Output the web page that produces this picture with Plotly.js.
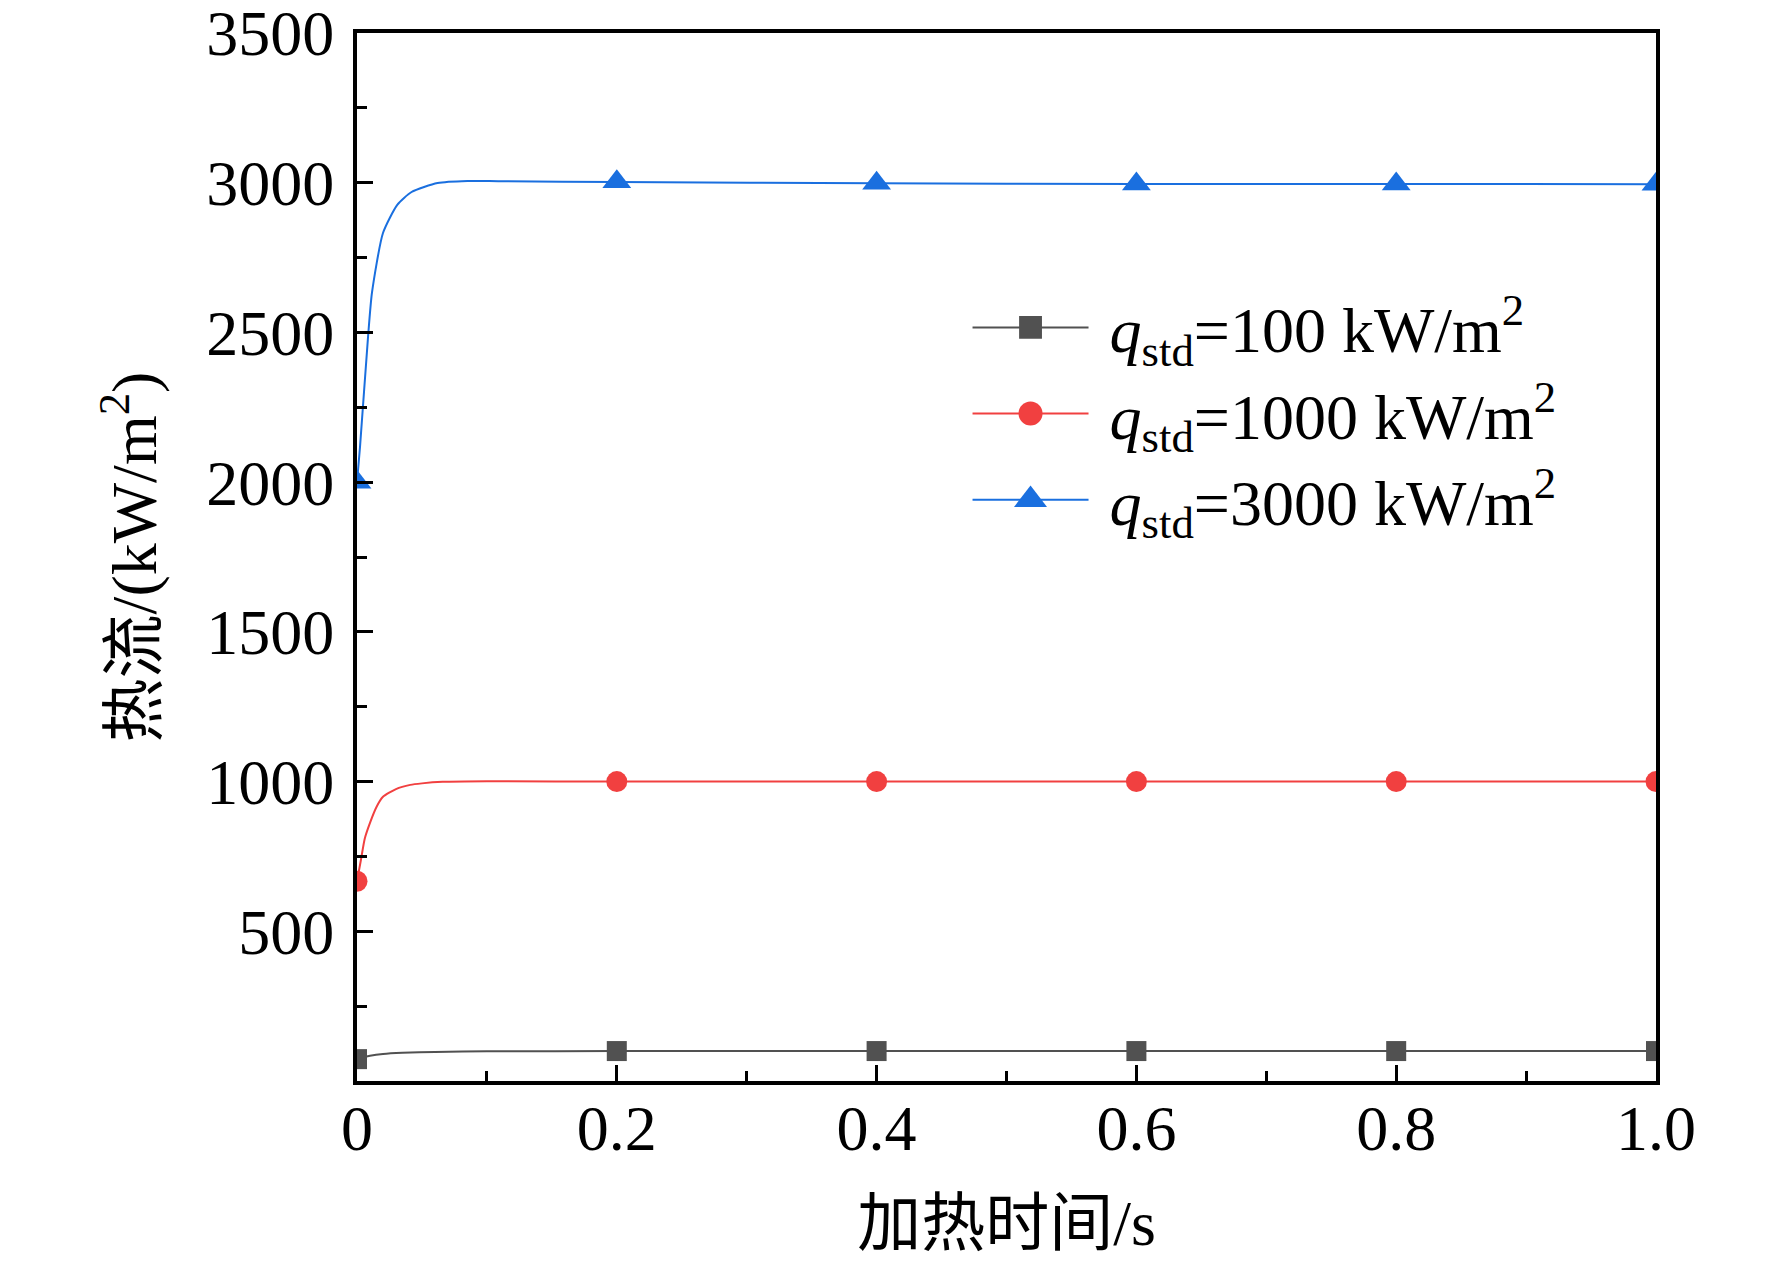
<!DOCTYPE html>
<html>
<head>
<meta charset="utf-8">
<script src="https://cdn.plot.ly/plotly-3.0.1.min.js"></script>
<style>
  html, body { margin: 0; padding: 0; background: #fff; }
  #plot { width: 1772px; height: 1262px; }
</style>
</head>
<body>
<div id="plot"></div>
<script>
// heating time (s) where the markers sit
const markerTimes = [0, 0.2, 0.4, 0.6, 0.8, 1.0];
const q100Markers = [73, 100, 100, 100, 100, 100];
const q1000Markers = [667, 1000, 1000, 1000, 1000, 1000];
const q3000Markers = [2000, 3003, 2998, 2996, 2996, 2995];

// the smooth curves (dense near t = 0)
const q100Times = [0, 0.004, 0.01, 0.02, 0.035, 0.06, 0.1, 0.2, 0.4, 0.6, 0.8, 1.0];
const q100Curve = [73, 78, 84, 90, 94, 97, 99, 100, 100, 100, 100, 100];

const q1000Times = [0, 0.003, 0.006, 0.01, 0.015, 0.02, 0.03, 0.041, 0.05, 0.066, 0.1, 0.2, 0.4, 0.6, 0.8, 1.0];
const q1000Curve = [667, 738, 810, 862, 915, 949, 975, 989, 994, 999, 1001, 1000, 1000, 1000, 1000, 1000];

const q3000Times = [0, 0.0023, 0.0085, 0.0115, 0.02, 0.031, 0.042, 0.062, 0.085, 0.11, 0.2, 0.4, 0.6, 0.8, 1.0];
const q3000Curve = [2000, 2117, 2485, 2632, 2832, 2926, 2969, 2999, 3006, 3005, 3002, 2998, 2996, 2996, 2995];

const seriesNames = [
    '\u00a0<i>q</i><sub>std</sub>=100 kW/m<sup>2</sup>',
    '\u00a0<i>q</i><sub>std</sub>=1000 kW/m<sup>2</sup>',
    '\u00a0<i>q</i><sub>std</sub>=3000 kW/m<sup>2</sup>'
];

const xTickVals = [0, 0.2, 0.4, 0.6, 0.8, 1.0];
const xTickText = ['0', '0.2', '0.4', '0.6', '0.8', '1.0'];
const yTickVals = [500, 1000, 1500, 2000, 2500, 3000, 3500];
const yTickText = ['500', '1000', '1500', '2000', '2500', '3000', '3500'];

const colors = ['#515151', '#F14040', '#1A6FDF'];
const symbols = ['square', 'circle', 'triangle-up'];
const sizes = [20, 21, 25];

const curves = [
    { t: q100Times, y: q100Curve, mt: markerTimes, my: q100Markers },
    { t: q1000Times, y: q1000Curve, mt: markerTimes, my: q1000Markers },
    { t: q3000Times, y: q3000Curve, mt: markerTimes, my: q3000Markers }
];

let traces = [];
curves.forEach((c, i) => {
    // smooth line
    traces.push({
        x: c.t, y: c.y,
        mode: 'lines', type: 'scatter',
        line: { color: colors[i], width: 2, shape: 'spline', smoothing: 0.6 },
        showlegend: false, hoverinfo: 'skip'
    });
    // markers
    traces.push({
        x: c.mt, y: c.my,
        mode: 'markers', type: 'scatter',
        marker: { color: colors[i], size: sizes[i], symbol: symbols[i] },
        showlegend: false
    });
    // legend entry only (line + marker key)
    traces.push({
        x: [null], y: [null],
        mode: 'lines+markers', type: 'scatter',
        line: { color: colors[i], width: 2 },
        marker: { color: colors[i], size: sizes[i], symbol: symbols[i] },
        name: seriesNames[i]
    });
});

const axisFont = { family: '"Liberation Serif", "Times New Roman", "Noto Sans CJK SC", serif', size: 64, color: '#000' };

let layout = {
    width: 1772, height: 1262,
    paper_bgcolor: '#fff', plot_bgcolor: '#fff',
    margin: { l: 357, r: 116, t: 33, b: 181 },
    font: axisFont,
    showlegend: true,
    legend: {
        x: 0.47, y: 0.765, xanchor: 'left', yanchor: 'top',
        bgcolor: 'rgba(0,0,0,0)', borderwidth: 0,
        font: { family: axisFont.family, size: 64, color: '#000' },
        tracegroupgap: 0, itemwidth: 116
    },
    xaxis: {
        range: [0, 1],
        tickmode: 'array', tickvals: xTickVals, ticktext: xTickText,
        ticks: 'inside', ticklen: 16, tickwidth: 3, tickcolor: '#000',
        minor: { dtick: 0.1, tick0: 0, ticks: 'inside', ticklen: 10, tickwidth: 3, tickcolor: '#000' },
        showline: true, linewidth: 4, linecolor: '#000', mirror: true,
        showgrid: false, zeroline: false,
        tickfont: axisFont, ticklabelstandoff: -12, ticklabeloverflow: 'allow',
        title: { text: '加热时间/s', font: axisFont, standoff: 38 }
    },
    yaxis: {
        range: [0, 3500],
        tickmode: 'array', tickvals: yTickVals, ticktext: yTickText,
        ticks: 'inside', ticklen: 16, tickwidth: 3, tickcolor: '#000',
        minor: { dtick: 250, tick0: 0, ticks: 'inside', ticklen: 10, tickwidth: 3, tickcolor: '#000' },
        showline: true, linewidth: 4, linecolor: '#000', mirror: true,
        showgrid: false, zeroline: false,
        tickfont: axisFont, ticklabelstandoff: 6, ticklabeloverflow: 'allow',
        title: { text: '热流/(kW/m<sup>2</sup>)', font: axisFont, standoff: 30 }
    }
};

// Plotly caps legend symbols at 16px; scale them up towards the plotted marker sizes
function enlargeLegendMarkers() {
    const gd = document.getElementById('plot');
    gd.querySelectorAll('.legend .legendpoints path.scatterpts').forEach((p, i) => {
        const base = p.getAttribute('transform') || '';
        p.setAttribute('transform', base + ' scale(' + (sizes[i % 3] / 14) + ')');
    });
}

Plotly.newPlot('plot', traces, layout, { staticPlot: true }).then(enlargeLegendMarkers);
</script>
</body>
</html>
